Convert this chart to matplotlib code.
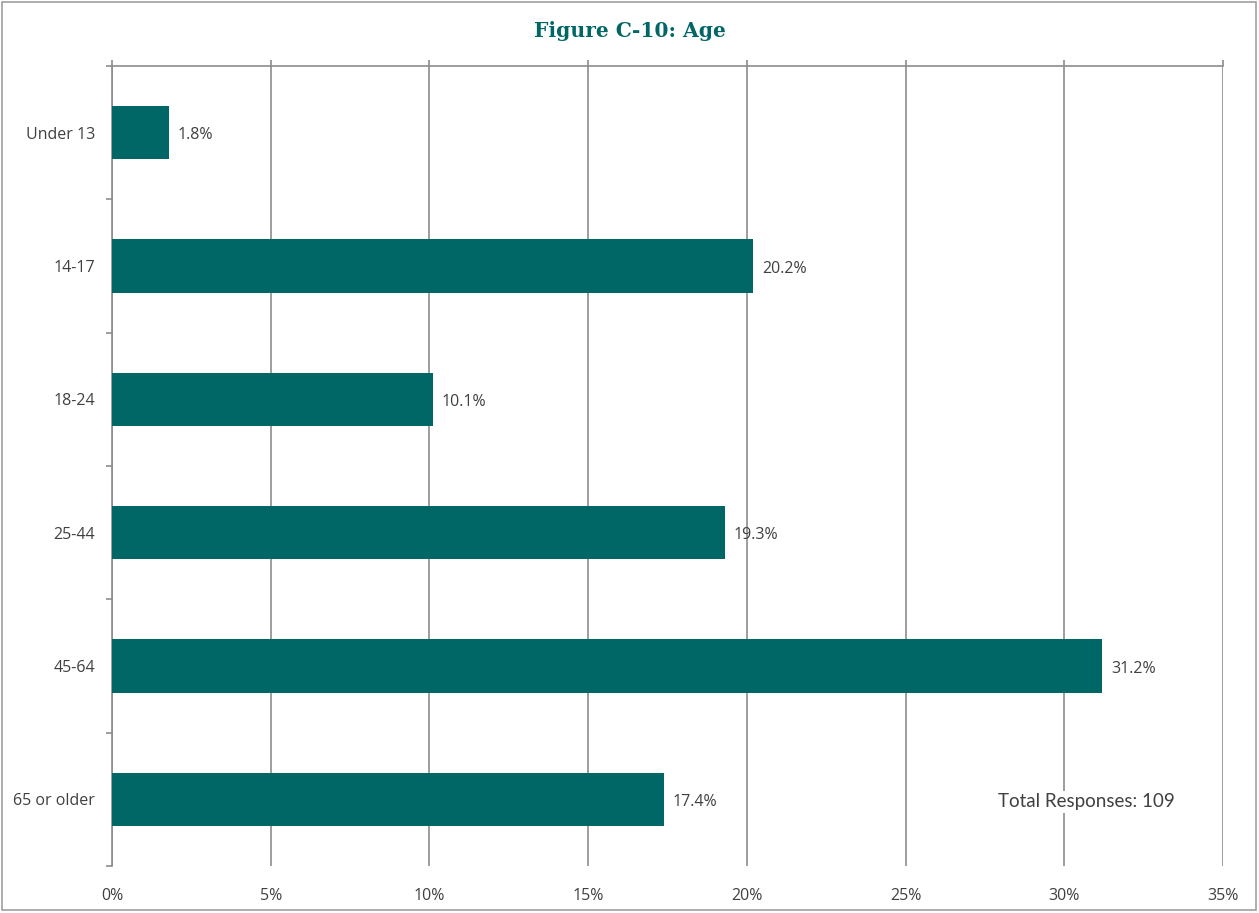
import numpy as np
import matplotlib as mpl
import matplotlib.pyplot as plt
from matplotlib.patches import Rectangle

# data
categories = ['Under 13', '14-17', '18-24', '25-44', '45-64', '65 or older']
values = [1.8, 20.2, 10.1, 19.3, 31.2, 17.4]
xticks = [0, 5, 10, 15, 20, 25, 30, 35]
total_text = 'Total Responses: 109'

teal = '#006766'
grid_col = '#8c8c8c'
txt_col = '#404040'

fig = plt.figure(figsize=(12.59, 9.13), dpi=100)
ax = fig.add_axes([0.08896, 0.05148, 0.88245, 0.87623])

ypos = np.arange(len(categories))
ax.barh(ypos, values, height=0.4, color=teal, zorder=3)
ax.set_ylim(len(categories) - 0.5, -0.5)
ax.set_xlim(0, 35)

for y, v in zip(ypos, values):
    ax.text(v + 0.27, y + 0.02, f'{v:.1f}%', va='center', ha='left',
            fontsize=11.5, color=txt_col, family='Open Sans', zorder=4)

# y axis: labels at centers, small ticks at boundaries
ax.set_yticks(ypos)
ax.set_yticklabels(categories, family='Open Sans', fontsize=11.5, color=txt_col)
ax.set_yticks(np.arange(len(categories) + 1) - 0.5, minor=True)
ax.tick_params(axis='y', which='major', length=0, pad=12)
ax.tick_params(axis='y', which='minor', length=4, width=1.2, color=grid_col, direction='out')

# x axis: line on top with ticks, labels at bottom
ax.set_xticks(xticks)
ax.set_xticklabels([f'{t}%' for t in xticks], family='Open Sans', fontsize=11.5, color=txt_col)
ax.tick_params(axis='x', top=True, bottom=False, labeltop=False, labelbottom=True,
               length=4, width=1.2, color=grid_col, direction='out', pad=12)
ax.grid(axis='x', color=grid_col, linewidth=1.2, zorder=0)
ax.set_axisbelow(True)

for s in ['bottom', 'right']:
    ax.spines[s].set_visible(False)
ax.spines['top'].set_color(grid_col)
ax.spines['top'].set_linewidth(1.2)
ax.spines['left'].set_color(grid_col)
ax.spines['left'].set_linewidth(1.2)

ax.text(27.9, 5.02, total_text, va='center', ha='left', fontsize=13.5,
        color=txt_col, family='Lato', zorder=5,
        bbox=dict(facecolor='white', edgecolor='none', pad=2))

fig.text(0.5, 0.966, 'Figure C-10: Age', ha='center', va='center', fontsize=14.6,
         fontweight='bold', color=teal, family='DejaVu Serif')

fig.patches.append(Rectangle((0.0015, 0.003), 0.996, 0.995, transform=fig.transFigure,
                             fill=False, edgecolor='#a0a0a0', linewidth=1.2))

fig.savefig('out.png', dpi=100)
